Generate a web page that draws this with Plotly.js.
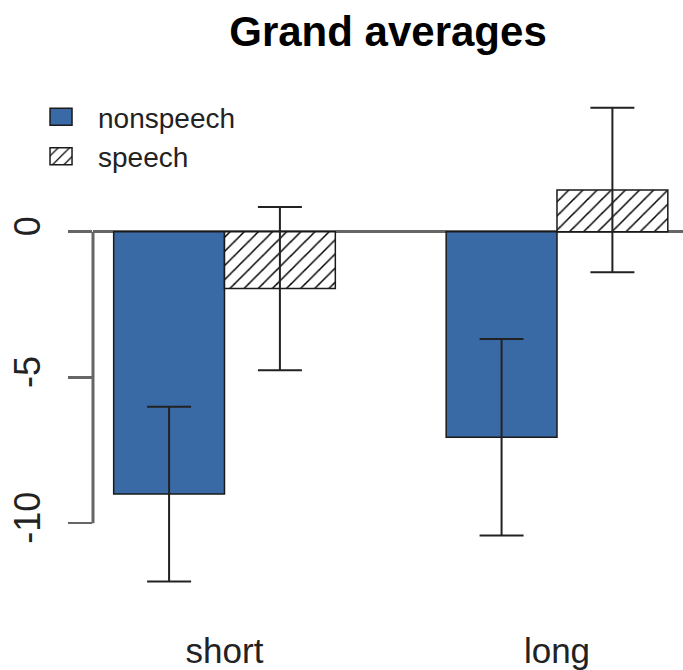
<!DOCTYPE html>
<html>
<head>
<meta charset="utf-8">
<script src="https://cdn.plot.ly/plotly-3.0.1.min.js"></script>
<style>html,body{margin:0;padding:0;background:#fff;}#chart{width:683px;height:670px;}</style>
</head>
<body>
<div id="chart"></div>
<script>
// ---- data ----
const categories = ['short', 'long'];
const nonspeech = [-9.0, -7.05];
const nonspeechErr = [3.0, 3.37];
const speech = [-1.95, 1.43];
const speechErr = [2.8, 2.82];
const yTickVals = [-10, -5, 0];
const yTickText = ['-10', '-5', '0'];

const FONT = 'Liberation Sans, Arial, Helvetica, sans-serif';
const BLUE = '#3a6aa6';
const GREY = '#666666';

const traces = [
  {
    type: 'bar', name: 'nonspeech', x: categories, y: nonspeech,
    marker: {color: BLUE, line: {color: '#1a1a1a', width: 1.5}},
    error_y: {type: 'data', array: nonspeechErr, visible: true, color: '#222', thickness: 2, width: 22}
  },
  {
    type: 'bar', name: 'speech', x: categories, y: speech,
    marker: {color: '#ffffff', line: {color: '#1a1a1a', width: 1.5},
      pattern: {shape: '/', size: 10, solidity: 0.15, fgcolor: '#000', bgcolor: '#fff'}},
    error_y: {type: 'data', array: speechErr, visible: true, color: '#222', thickness: 2, width: 22}
  }
];

const layout = {
  width: 683, height: 670,
  margin: {l: 93, r: 0, t: 86, b: 71},
  paper_bgcolor: '#fff', plot_bgcolor: '#fff',
  font: {family: FONT, color: '#000'},
  title: {text: '<b>Grand averages</b>', font: {family: FONT, size: 42, color: '#000'},
    xref: 'paper', x: 0.5, xanchor: 'center', yref: 'container', y: 0.954, yanchor: 'middle'},
  barmode: 'group', bargap: 1/3, bargroupgap: 0,
  showlegend: true,
  legend: {x: -0.1169, xanchor: 'left', y: 0.988, yanchor: 'top', yref: 'paper', itemwidth: 64,
    font: {family: FONT, size: 28, color: '#222'}, bgcolor: 'rgba(0,0,0,0)', tracegroupgap: 0},
  xaxis: {type: 'category', range: [-0.3955, 1.379], showline: false, showgrid: false, zeroline: false,
    ticks: '', tickfont: {family: FONT, size: 35, color: '#222'}, ticklabelstandoff: 28, fixedrange: true},
  yaxis: {range: [-12.6, 5.0], showgrid: false, showline: false,
    zeroline: true, zerolinecolor: GREY, zerolinewidth: 2.5,
    tickvals: yTickVals, ticktext: yTickText, ticks: 'outside', ticklen: 24, tickwidth: 2.5, tickcolor: GREY,
    tickangle: -90, ticklabelstandoff: 14, tickfont: {family: FONT, size: 36, color: '#222'}, fixedrange: true},
  shapes: [
    {type: 'line', xref: 'paper', x0: 0, x1: 0, yref: 'y',
     y0: Math.min(...yTickVals), y1: Math.max(...yTickVals), line: {color: GREY, width: 3}, layer: 'below'}
  ]
};

Plotly.newPlot('chart', traces, layout, {displayModeBar: false, staticPlot: true}).then(function () {
  // widen legend swatches to the reference's box size
  document.querySelectorAll('.legend .legendpoints path').forEach(function (p) {
    const d = p.getAttribute('d') || '';
    if (d.indexOf('M6,6') === 0) {
      p.setAttribute('d', 'M11,8.5H-11V-8.5H11Z');
      p.style.strokeWidth = '1.5px';
      p.style.stroke = '#1a1a1a';
    }
  });
});
</script>
</body>
</html>
